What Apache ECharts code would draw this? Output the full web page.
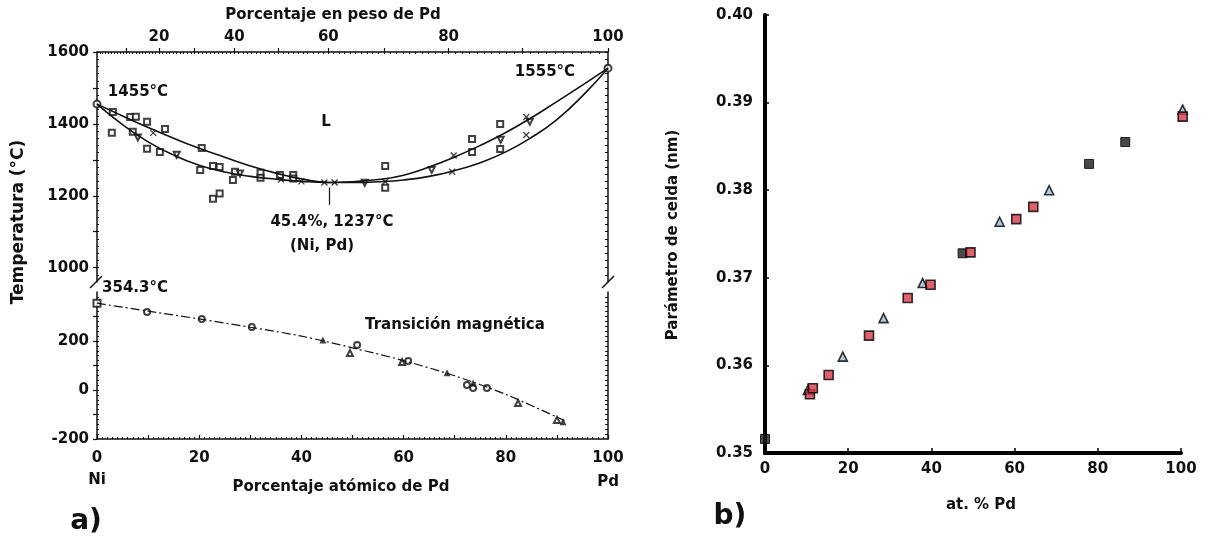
<!DOCTYPE html>
<html><head><meta charset="utf-8">
<script src="https://cdn.jsdelivr.net/npm/echarts@6/dist/echarts.min.js"></script>
<style>html,body{margin:0;padding:0;background:#fff}#c{width:1211px;height:539px}</style>
</head><body><div id="c"></div>
<script>
// (a) Ni–Pd phase diagram, (b) lattice parameter of the (Ni,Pd) solid solution

// ---- (a) upper part: liquidus / solidus (at.% Pd, °C)
const meltX     = [0, 5, 10, 15, 20, 25, 30, 35, 40, 45.4, 50, 55, 60, 65, 70, 75, 80, 85, 90, 95, 100];
const liquidusT = [1455, 1422, 1390, 1360, 1332, 1307, 1283, 1263, 1247, 1237, 1239, 1245, 1257, 1280, 1308, 1340, 1376, 1417, 1462, 1508, 1555];
const solidusT  = [1455, 1398, 1350, 1313, 1285, 1266, 1254, 1246, 1240, 1237, 1237, 1239, 1244, 1254, 1270, 1292, 1322, 1362, 1412, 1478, 1555];
const meltSquares = [[3.1,1433],[6.5,1419],[7.6,1420],[9.8,1406],[13.3,1386],[2.9,1375],[7,1378],[9.8,1331],[12.3,1322],[20.5,1333],[20.2,1272],[22.7,1283],[24,1280],[22.7,1192],[24,1206],[27,1267],[26.6,1244],[32,1264],[32,1250],[35.8,1258],[38.4,1258],[38.4,1248],[56.4,1283],[56.4,1222],[73.4,1358],[78.9,1400],[78.9,1330],[73.4,1322]];
const meltInvTri  = [[15.6,1314],[8,1362],[28,1262],[52.4,1236],[65.5,1272],[79,1356],[84.7,1406]];
const meltCross   = [[11,1375],[36,1245],[40,1240],[44.5,1237],[46.5,1237],[56.4,1239],[69.5,1267],[69.8,1312],[84,1419],[84,1369]];
const meltEnds    = [[0,1455],[100,1555]];
const minimumPoint = [45.4, 1237];

// ---- (a) lower part: magnetic transition (at.% Pd, °C)
const curieX = [0, 10, 20, 30, 40, 50, 60, 70, 80, 91.5];
const curieT = [354.3, 322, 290, 256, 220, 172, 120, 58, -18, -125];
const curieCircles  = [[9.8,318],[20.5,290],[30.3,257],[50.9,184],[60.9,118],[72.4,20],[73.6,8],[76.3,8]];
const curieOpenTri  = [[49.5,151],[59.7,114],[82.4,-53],[90,-122]];
const curieFullTri  = [[44.2,204],[68.5,70],[73.6,29],[91.2,-130]];
const curieSquare   = [[0,354.3]];

// ---- (b) lattice parameter (at.% Pd, nm)
const latRed   = [[10.8,0.3567],[11.5,0.3574],[15.3,0.3589],[25,0.3634],[34.3,0.3677],[39.8,0.3692],[49.4,0.3729],[60.4,0.3767],[64.5,0.3781],[100.4,0.3884]];
const latTri   = [[10.3,0.3572],[18.7,0.3610],[28.5,0.3654],[37.9,0.3694],[56.4,0.3764],[68.3,0.3800],[100.4,0.3892]];
const latBlack = [[0,0.3516],[47.5,0.3728],[77.9,0.3830],[86.6,0.3855]];

// ---- tick values
const wtMajor  = [10, 20, 30, 40, 50, 60, 70, 80, 90, 100];
const wtLabels = [20, 40, 60, 80, 100];
const atLabels = [0, 20, 40, 60, 80, 100];
const atMajor  = [0, 10, 20, 30, 40, 50, 60, 70, 80, 90, 100];
const upperTLabels = [1000, 1200, 1400, 1600];
const lowerTLabels = [-200, 0, 200];

// weight % Pd -> atomic % Pd (Ni 58.69, Pd 106.42)
const wt2at = w => { const p = w / 106.42, n = (100 - w) / 58.69; return 100 * p / (p + n); };
const range = (a, b, s) => { const r = []; for (let v = a; v <= b + 1e-9; v += s) r.push(+v.toFixed(6)); return r; };

const FONT = 'DejaVu Sans';
const INK = '#111';
const lbl = (size) => ({ fontFamily: FONT, fontWeight: 'bold', fontSize: size || 15, color: INK });
const axLine = (w) => ({ show: true, onZero: false, lineStyle: { color: INK, width: w || 1.5 } });
const noLine = { show: false, onZero: false };
const pair = (xs, ys) => xs.map((x, i) => [x, ys[i]]);
const plain = v => String(v);

function txt(size) {
  return { font: 'bold ' + size + 'px "' + FONT + '"', fill: INK, textAlign: 'center', textVerticalAlign: 'middle' };
}

const chart = echarts.init(document.getElementById('c'), null, { renderer: 'canvas' });

const xBase = (grid, extra) => Object.assign({
  type: 'value', gridIndex: grid, min: 0, max: 100, splitLine: { show: false }
}, extra);
const yBase = (grid, min, max, extra) => Object.assign({
  type: 'value', gridIndex: grid, min: min, max: max, splitLine: { show: false }
}, extra);

const option = {
  animation: false,
  backgroundColor: '#fff',
  grid: [
    { left: 97, top: 52, width: 511, height: 230 },
    { left: 97, top: 292, width: 511, height: 147 },
    { left: 765, top: 15, width: 416, height: 438 }
  ],
  xAxis: [
    // 0: top weight-% scale of the upper diagram
    xBase(0, {
      position: 'top', axisLine: axLine(),
      axisTick: { show: true, inside: false, length: 4, customValues: wtMajor.map(wt2at), lineStyle: { color: INK, width: 1.2 } },
      axisLabel: { show: true, margin: 7, customValues: wtLabels.map(wt2at), ...lbl(15),
        formatter: v => { const w = wtLabels.find(w => Math.abs(wt2at(w) - v) < 1e-6); return w === undefined ? '' : String(w); } }
    }),
    // 1: minor weight ticks
    xBase(0, {
      position: 'top', axisLine: noLine, axisLabel: { show: false },
      axisTick: { show: true, inside: true, length: 2, customValues: range(1, 99, 1).map(wt2at), lineStyle: { color: INK, width: 1 } }
    }),
    // 2: bottom atomic-% scale
    xBase(1, {
      position: 'bottom', axisLine: axLine(),
      axisTick: { show: true, inside: true, length: 4, customValues: atMajor, lineStyle: { color: INK, width: 1.2 } },
      axisLabel: { show: true, margin: 12, customValues: atLabels, ...lbl(15), formatter: plain }
    }),
    // 3: minor atomic ticks
    xBase(1, {
      position: 'bottom', axisLine: noLine, axisLabel: { show: false },
      axisTick: { show: true, inside: true, length: 2, customValues: range(1, 99, 1), lineStyle: { color: INK, width: 1 } }
    }),
    // 4: (b) composition axis
    xBase(2, {
      position: 'bottom', interval: 20,
      axisLine: { show: true, onZero: false, lineStyle: { color: '#000', width: 4 } },
      axisTick: { show: true, inside: true, length: 5, lineStyle: { color: '#000', width: 1.5 } },
      axisLabel: { show: true, margin: 9, ...lbl(15), formatter: plain }
    })
  ],
  yAxis: [
    // 0: upper temperatures, left
    yBase(0, 960, 1600, {
      position: 'left', axisLine: axLine(),
      axisTick: { show: true, inside: false, length: 4, customValues: range(1000, 1600, 100), lineStyle: { color: INK, width: 1.2 } },
      axisLabel: { show: true, margin: 8, customValues: upperTLabels, ...lbl(15), formatter: plain }
    }),
    // 1: upper minor ticks, left
    yBase(0, 960, 1600, {
      position: 'left', axisLine: noLine, axisLabel: { show: false },
      axisTick: { show: true, inside: true, length: 2, customValues: range(980, 1600, 20), lineStyle: { color: INK, width: 1 } }
    }),
    // 2: upper frame, right
    yBase(0, 960, 1600, {
      position: 'right', axisLine: axLine(), axisLabel: { show: false },
      axisTick: { show: true, inside: true, length: 3, customValues: range(980, 1600, 20), lineStyle: { color: INK, width: 1 } }
    }),
    // 3: lower temperatures, left
    yBase(1, -200, 400, {
      position: 'left', axisLine: axLine(),
      axisTick: { show: true, inside: false, length: 4, customValues: range(-200, 300, 100), lineStyle: { color: INK, width: 1.2 } },
      axisLabel: { show: true, margin: 8, customValues: lowerTLabels, ...lbl(15), formatter: plain }
    }),
    // 4: lower minor ticks, left
    yBase(1, -200, 400, {
      position: 'left', axisLine: noLine, axisLabel: { show: false },
      axisTick: { show: true, inside: true, length: 2, customValues: range(-180, 380, 20), lineStyle: { color: INK, width: 1 } }
    }),
    // 5: lower frame, right
    yBase(1, -200, 400, {
      position: 'right', axisLine: axLine(), axisLabel: { show: false },
      axisTick: { show: true, inside: true, length: 3, customValues: range(-180, 380, 20), lineStyle: { color: INK, width: 1 } }
    }),
    // 6: (b) lattice parameter
    yBase(2, 0.35, 0.40, {
      position: 'left', interval: 0.01,
      axisLine: { show: true, onZero: false, lineStyle: { color: '#000', width: 4 } },
      axisTick: { show: true, inside: true, length: 4, lineStyle: { color: '#000', width: 1.5 } },
      axisLabel: { show: true, margin: 12, ...lbl(15), formatter: v => v.toFixed(2) }
    })
  ],
  series: [
    { type: 'line', name: 'liquidus', xAxisIndex: 0, yAxisIndex: 0, data: pair(meltX, liquidusT),
      smooth: 0.5, showSymbol: false, lineStyle: { color: INK, width: 1.6 },
      markLine: { silent: true, symbol: ['none', 'arrow'], symbolSize: [0, 7], label: { show: false },
        lineStyle: { color: INK, width: 1.2, type: 'solid' },
        data: [[{ coord: [minimumPoint[0], minimumPoint[1] - 62] }, { coord: [minimumPoint[0], minimumPoint[1] - 14] }]] } },
    { type: 'line', name: 'solidus', xAxisIndex: 0, yAxisIndex: 0, data: pair(meltX, solidusT),
      smooth: 0.5, showSymbol: false, lineStyle: { color: INK, width: 1.6 } },
    { type: 'scatter', xAxisIndex: 0, yAxisIndex: 0, data: meltSquares, symbol: 'emptyRect', symbolSize: 6,
      itemStyle: { color: INK, borderWidth: 1.3 } },
    { type: 'scatter', xAxisIndex: 0, yAxisIndex: 0, data: meltInvTri, symbol: 'emptyTriangle', symbolRotate: 180, symbolSize: 6,
      itemStyle: { color: INK, borderWidth: 1.2 } },
    { type: 'scatter', xAxisIndex: 0, yAxisIndex: 0, data: meltCross, symbol: 'path://M0,0L10,10M10,0L0,10', symbolSize: 6,
      itemStyle: { color: 'none', borderColor: INK, borderWidth: 1.3 } },
    { type: 'scatter', xAxisIndex: 0, yAxisIndex: 0, data: meltEnds, symbol: 'emptyCircle', symbolSize: 7,
      itemStyle: { color: INK, borderWidth: 1.4 }, clip: false },

    { type: 'line', name: 'magnetic', xAxisIndex: 2, yAxisIndex: 3, data: pair(curieX, curieT),
      smooth: 0.3, showSymbol: false, lineStyle: { color: INK, width: 1.2, type: [9, 3, 2, 3] } },
    { type: 'scatter', xAxisIndex: 2, yAxisIndex: 3, data: curieCircles, symbol: 'emptyCircle', symbolSize: 6,
      itemStyle: { color: INK, borderWidth: 1.2 } },
    { type: 'scatter', xAxisIndex: 2, yAxisIndex: 3, data: curieOpenTri, symbol: 'emptyTriangle', symbolSize: 6,
      itemStyle: { color: INK, borderWidth: 1.2 } },
    { type: 'scatter', xAxisIndex: 2, yAxisIndex: 3, data: curieFullTri, symbol: 'triangle', symbolSize: 7,
      itemStyle: { color: INK } },
    { type: 'scatter', xAxisIndex: 2, yAxisIndex: 3, data: curieSquare, symbol: 'emptyRect', symbolSize: 7,
      itemStyle: { color: INK, borderWidth: 1.3 }, clip: false },

    { type: 'scatter', xAxisIndex: 4, yAxisIndex: 6, data: latBlack, symbol: 'rect', symbolSize: 9, clip: false,
      itemStyle: { color: '#1a1a1a', borderColor: '#000', borderWidth: 1 } },
    { type: 'scatter', xAxisIndex: 4, yAxisIndex: 6, data: latTri, symbol: 'triangle', symbolSize: 9, clip: false,
      itemStyle: { color: '#9dbbd0', borderColor: '#000', borderWidth: 1.6 } },
    { type: 'scatter', xAxisIndex: 4, yAxisIndex: 6, data: latRed, symbol: 'rect', symbolSize: 9, clip: false,
      itemStyle: { color: '#d8394a', borderColor: '#000', borderWidth: 1.6 } }
  ],
  graphic: [
    // texts of (a)
    { type: 'text', x: 333, y: 15, style: { text: 'Porcentaje en peso de Pd', ...txt(15) } },
    { type: 'text', x: 138, y: 92, style: { text: '1455°C', ...txt(15) } },
    { type: 'text', x: 545, y: 72, style: { text: '1555°C', ...txt(15) } },
    { type: 'text', x: 326, y: 122, style: { text: 'L', ...txt(15) } },
    { type: 'text', x: 332, y: 222, style: { text: '45.4%, 1237°C', ...txt(15) } },
    { type: 'text', x: 322, y: 246, style: { text: '(Ni, Pd)', ...txt(15) } },
    { type: 'text', x: 135, y: 288, style: { text: '354.3°C', ...txt(15) } },
    { type: 'text', x: 455, y: 325, style: { text: 'Transición magnética', ...txt(15) } },
    { type: 'text', x: 19, y: 222, rotation: Math.PI / 2, style: { text: 'Temperatura (°C)', ...txt(17) } },
    { type: 'text', x: 97, y: 480, style: { text: 'Ni', ...txt(15) } },
    { type: 'text', x: 608, y: 482, style: { text: 'Pd', ...txt(15) } },
    { type: 'text', x: 341, y: 487, style: { text: 'Porcentaje atómico de Pd', ...txt(15) } },
    { type: 'text', x: 86, y: 522, style: { text: 'a)', ...txt(28) } },
    // axis breaks
    { type: 'line', shape: { x1: 90, y1: 288, x2: 102, y2: 276 }, style: { stroke: INK, lineWidth: 1.5 } },
    { type: 'line', shape: { x1: 602, y1: 288, x2: 614, y2: 276 }, style: { stroke: INK, lineWidth: 1.5 } },
    // texts of (b)
    { type: 'text', x: 673, y: 235, rotation: Math.PI / 2, style: { text: 'Parámetro de celda (nm)', ...txt(15) } },
    { type: 'text', x: 981, y: 505, style: { text: 'at. % Pd', ...txt(15) } },
    { type: 'text', x: 730, y: 517, style: { text: 'b)', ...txt(28) } }
  ]
};

chart.setOption(option);
</script>
</body></html>
